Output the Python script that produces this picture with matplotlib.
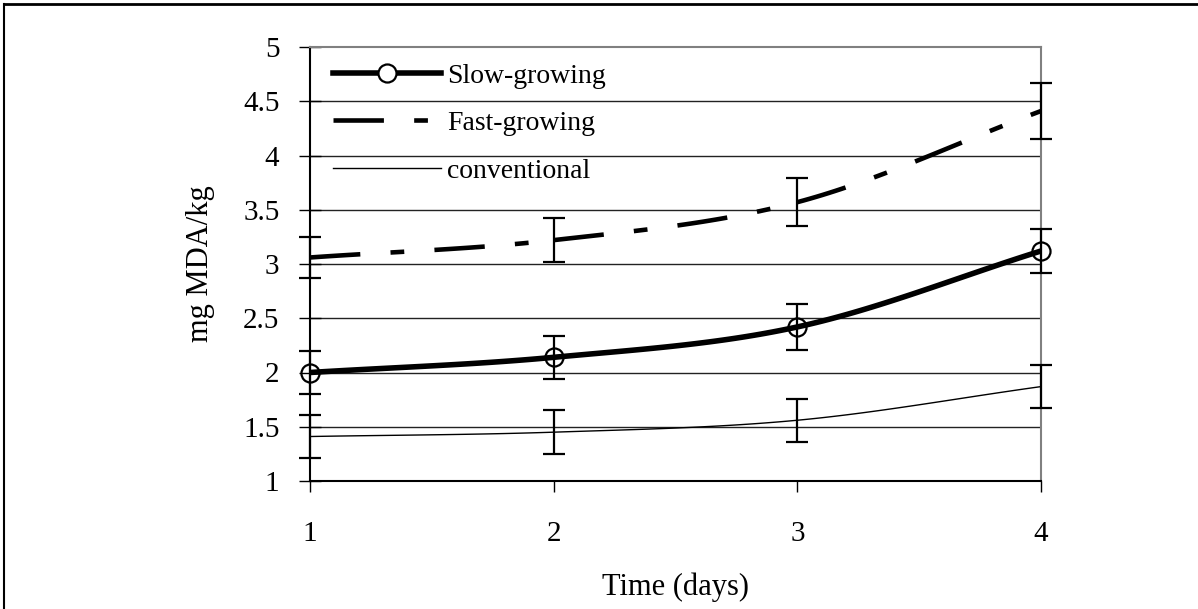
import numpy as np
import matplotlib
matplotlib.use("Agg")
import matplotlib.pyplot as plt
from matplotlib.lines import Line2D

plt.rcParams['font.family'] = ['Liberation Serif', 'DejaVu Serif']

# data
days = [1, 2, 3, 4]
slow = [2.00, 2.14, 2.42, 3.12]
slow_err = [0.20, 0.20, 0.21, 0.20]
fast = [3.06, 3.22, 3.57, 4.41]
fast_err = [0.19, 0.20, 0.22, 0.26]
conv = [1.41, 1.45, 1.56, 1.87]
conv_err = [0.20, 0.20, 0.20, 0.20]
yticks = [1, 1.5, 2, 2.5, 3, 3.5, 4, 4.5, 5]


def smooth_segments(x, y, n=40):
    # excel-like smoothed line (catmull-rom), one piece per interval
    x = np.asarray(x, float)
    y = np.asarray(y, float)
    px = np.concatenate([[2 * x[0] - x[1]], x, [2 * x[-1] - x[-2]]])
    py = np.concatenate([[2 * y[0] - y[1]], y, [2 * y[-1] - y[-2]]])
    segs = []
    t = np.linspace(0, 1, n)
    for i in range(1, len(px) - 2):
        p0, p1, p2, p3 = [np.array([px[j], py[j]]) for j in range(i - 1, i + 3)]
        pts = 0.5 * ((2 * p1)[:, None] + (-p0 + p2)[:, None] * t
                     + (2 * p0 - 5 * p1 + 4 * p2 - p3)[:, None] * t ** 2
                     + (-p0 + 3 * p1 - 3 * p2 + p3)[:, None] * t ** 3)
        segs.append(pts)
    return segs


fig = plt.figure(figsize=(11.98, 6.09), dpi=100)
ax = fig.add_axes([310 / 1198, 1 - 481 / 609, 731 / 1198, 434 / 609])

# outer frame of the original chart object
fig.add_artist(Line2D([0.003, 1], [0.994, 0.994], transform=fig.transFigure, color='black', lw=2))
fig.add_artist(Line2D([0.003, 0.003], [0, 0.994], transform=fig.transFigure, color='black', lw=1.5))

for yv in yticks[1:-1]:
    ax.axhline(yv, color='#222222', lw=1.0, zorder=1)

fast_dash = (11, 6.6, 3.0, 6.6)
for seg in smooth_segments(days, conv):
    ax.plot(seg[0], seg[1], color='black', lw=1.0, zorder=3)
for seg in smooth_segments(days, slow):
    ax.plot(seg[0], seg[1], color='black', lw=4.0, solid_capstyle='butt', zorder=3)
for seg in smooth_segments(days, fast):
    ax.plot(seg[0], seg[1], color='black', lw=3.3, dashes=fast_dash,
            dash_capstyle='butt', zorder=3)

ax.plot(days, slow, 'o', ms=13, mfc='none', mec='black', mew=1.6, zorder=4, clip_on=False)

for vals, errs in [(slow, slow_err), (fast, fast_err), (conv, conv_err)]:
    eb = ax.errorbar(days, vals, yerr=errs, fmt='none', ecolor='black', elinewidth=1.6,
                     capsize=8, capthick=1.6, zorder=5)
    for art in eb.lines[1] + eb.lines[2]:
        art.set_clip_on(False)

ax.set_xlim(1, 4)
ax.set_ylim(1, 5)
ax.set_xticks(days)
ax.set_yticks(yticks)
ax.set_yticklabels(['1', '1.5', '2', '2.5', '3', '3.5', '4', '4.5', '5'])
ax.tick_params(axis='y', direction='inout', length=16, width=1, labelsize=21, pad=14)
ax.tick_params(axis='x', direction='out', length=8, width=1, labelsize=21, pad=21)

ax.spines['left'].set_linewidth(1.5)
ax.spines['bottom'].set_linewidth(1.5)
ax.spines['top'].set_color('#808080')
ax.spines['right'].set_color('#808080')
ax.spines['top'].set_linewidth(1.5)
ax.spines['right'].set_linewidth(1.5)

ax.set_ylabel('mg MDA/kg', fontsize=22, labelpad=20)
ax.set_xlabel('Time (days)', fontsize=22, labelpad=18)

handles = [
    Line2D([], [], color='black', lw=4.0, marker='o', ms=13, mfc='white', mec='black', mew=1.6),
    Line2D([], [], color='black', lw=3.3, dashes=fast_dash, dash_capstyle='butt'),
    Line2D([], [], color='black', lw=1.0),
]
leg = ax.legend(handles, ['Slow-growing', 'Fast-growing', 'conventional'],
                loc='upper left', bbox_to_anchor=(0.0315, 0.963), frameon=False, fontsize=20,
                handlelength=3.9, handletextpad=0.2, labelspacing=0.8, numpoints=1,
                borderpad=0, borderaxespad=0)

fig.savefig('out.png', dpi=100)
